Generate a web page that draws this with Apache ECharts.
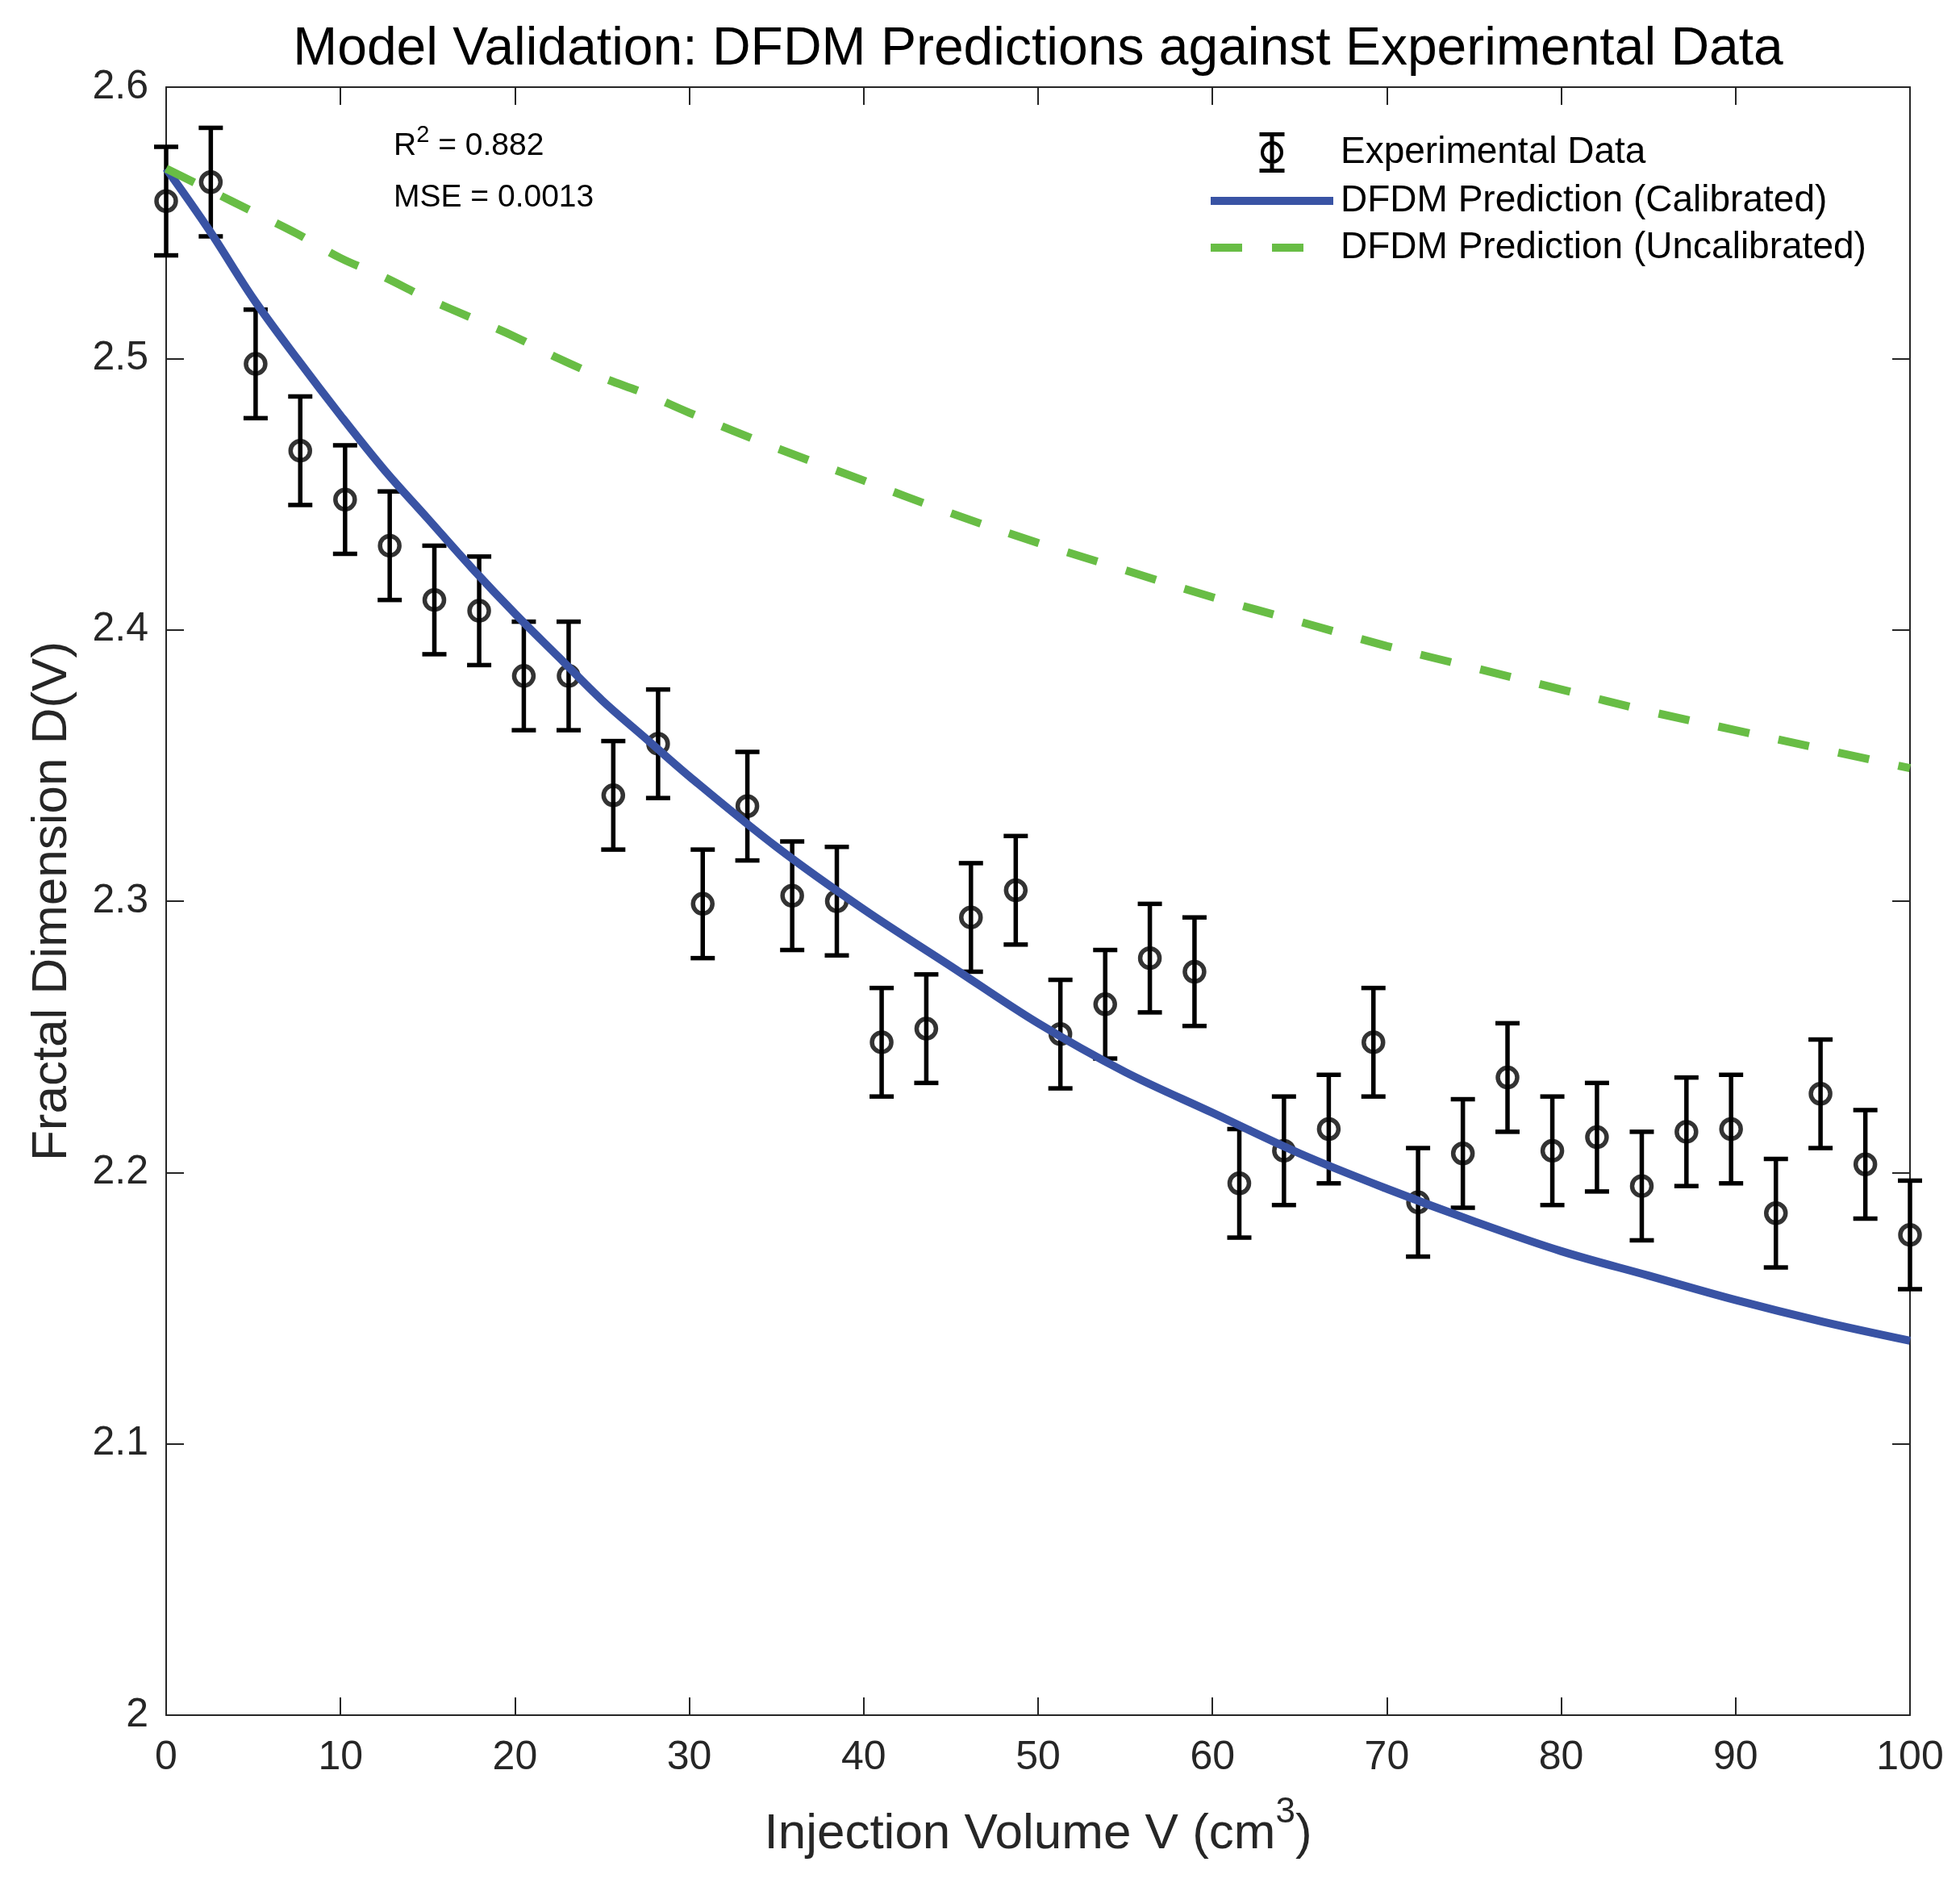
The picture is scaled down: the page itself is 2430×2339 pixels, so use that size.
<!DOCTYPE html>
<html>
<head>
<meta charset="utf-8">
<script src="https://cdn.jsdelivr.net/npm/echarts@6/dist/echarts.min.js"></script>
<style>
  html, body { margin: 0; padding: 0; background: #fff; }
  #chart { width: 2430px; height: 2339px; }
</style>
</head>
<body>
<div id="chart"></div>
<script>
// ---------------- data ----------------
const titleText = 'Model Validation: DFDM Predictions against Experimental Data';
const xAxisTitle = 'Injection Volume V (cm{sup|3})';
const yAxisTitle = 'Fractal Dimension D(V)';
const seriesNames = ['Experimental Data', 'DFDM Prediction (Calibrated)', 'DFDM Prediction (Uncalibrated)'];
const statsLines = ['R{sup|2} = 0.882', 'MSE = 0.0013'];

// experimental points (injection volume, fractal dimension, half error bar)
const volume = [0, 2.56, 5.13, 7.69, 10.26, 12.82, 15.38, 17.95, 20.51, 23.08,
  25.64, 28.21, 30.77, 33.33, 35.9, 38.46, 41.03, 43.59, 46.15, 48.72,
  51.28, 53.85, 56.41, 58.97, 61.54, 64.1, 66.67, 69.23, 71.79, 74.36,
  76.92, 79.49, 82.05, 84.62, 87.18, 89.74, 92.31, 94.87, 97.44, 100];
const measured = [2.558, 2.565, 2.498, 2.466, 2.448, 2.431, 2.411, 2.407, 2.383, 2.383,
  2.339, 2.358, 2.299, 2.335, 2.302, 2.300, 2.248, 2.253, 2.294, 2.304,
  2.251, 2.262, 2.279, 2.274, 2.196, 2.208, 2.216, 2.248, 2.189, 2.207,
  2.235, 2.208, 2.213, 2.195, 2.215, 2.216, 2.185, 2.229, 2.203, 2.177];
const errorBar = [0.02, 0.02, 0.02, 0.02, 0.02, 0.02, 0.02, 0.02, 0.02, 0.02,
  0.02, 0.02, 0.02, 0.02, 0.02, 0.02, 0.02, 0.02, 0.02, 0.02,
  0.02, 0.02, 0.02, 0.02, 0.02, 0.02, 0.02, 0.02, 0.02, 0.02,
  0.02, 0.02, 0.02, 0.02, 0.02, 0.02, 0.02, 0.02, 0.02, 0.02];

// model curves
const curveVolume = [0, 2.5, 5, 7.5, 10, 12.5, 15, 17.5, 20, 22.5, 25, 27.5, 30, 35, 40, 45, 50,
  55, 60, 65, 70, 75, 80, 85, 90, 95, 100];
const calibrated = [2.570, 2.547, 2.522, 2.500, 2.479, 2.459, 2.441, 2.423, 2.406, 2.390, 2.374, 2.360,
  2.346, 2.320, 2.297, 2.276, 2.255, 2.237, 2.222, 2.207, 2.194, 2.182,
  2.171, 2.162, 2.153, 2.145, 2.138];
const uncalibrated = [2.570, 2.562, 2.554, 2.546, 2.537, 2.530, 2.522, 2.515, 2.508, 2.500, 2.493, 2.487,
  2.480, 2.467, 2.455, 2.443, 2.432, 2.422, 2.412, 2.403, 2.394, 2.386,
  2.378, 2.370, 2.363, 2.356, 2.349];

// axis ranges
const xMin = 0, xMax = 100, xStep = 10;
const yMin = 2, yMax = 2.6, yStep = 0.1;

// ---------------- styling ----------------
const FONT = "'Liberation Sans', Arial, Helvetica, sans-serif";
const AXIS_COLOR = '#262626';
const BLUE = '#3953A4';
const GREEN = '#68BD45';

const chart = echarts.init(document.getElementById('chart'), null, { renderer: 'canvas' });

const scatterData = volume.map((v, i) => [v, measured[i]]);
const errorData = volume.map((v, i) => [v, measured[i] - errorBar[i], measured[i] + errorBar[i]]);
const calibratedData = curveVolume.map((v, i) => [v, calibrated[i]]);
const uncalibratedData = curveVolume.map((v, i) => [v, uncalibrated[i]]);

function renderErrorBar(params, api) {
  const x = api.value(0);
  const lo = api.coord([x, api.value(1)]);
  const hi = api.coord([x, api.value(2)]);
  const hw = 15;
  const style = { stroke: '#000', lineWidth: 5.5, fill: null };
  return {
    type: 'group',
    children: [
      { type: 'line', shape: { x1: lo[0], y1: lo[1], x2: hi[0], y2: hi[1] }, style: style },
      { type: 'line', shape: { x1: lo[0] - hw, y1: lo[1], x2: lo[0] + hw, y2: lo[1] }, style: style },
      { type: 'line', shape: { x1: hi[0] - hw, y1: hi[1], x2: hi[0] + hw, y2: hi[1] }, style: style }
    ]
  };
}

const tickStyle = { inside: true, length: 22, lineStyle: { color: AXIS_COLOR, width: 2 } };
const lineStyleAxis = { show: true, onZero: false, lineStyle: { color: AXIS_COLOR, width: 2 } };

const errIcon = 'path://M0,0H31V5H0Z M0,45H31V50H0Z M13,5H18V45H13Z ' +
  'M1.5,25A14,14 0 1,1 29.5,25A14,14 0 1,1 1.5,25Z ' +
  'M5.5,25A10,10 0 1,0 25.5,25A10,10 0 1,0 5.5,25Z';
const solidIcon = 'path://M0,0H152V10H0Z';
const dashIcon = 'path://M0,0H39V10H0Z M76,0H115V10H76Z M152,0L152,10';

const option = {
  animation: false,
  backgroundColor: '#ffffff',
  textStyle: { fontFamily: FONT },
  title: {
    text: titleText,
    left: 1287,
    top: 29,
    textAlign: 'center',
    padding: 0,
    textStyle: { fontFamily: FONT, fontSize: 66, fontWeight: 'normal', color: '#000', lineHeight: 66 }
  },
  grid: { left: 206, right: 62, top: 108, bottom: 213, containLabel: false },
  legend: {
    left: 1501,
    top: 164,
    orient: 'vertical',
    padding: 0,
    itemWidth: 152,
    itemHeight: 50,
    itemGap: 12,
    symbolKeepAspect: true,
    selectedMode: false,
    textStyle: { fontFamily: FONT, fontSize: 46, color: '#000', lineHeight: 46, padding: [0, 0, 0, 4] },
    data: [
      { name: seriesNames[0], icon: errIcon, itemStyle: { color: '#000', borderWidth: 0 } },
      { name: seriesNames[1], icon: solidIcon, itemStyle: { color: BLUE, borderWidth: 0 } },
      { name: seriesNames[2], icon: dashIcon, itemStyle: { color: GREEN, borderWidth: 0 } }
    ]
  },
  xAxis: [
    {
      type: 'value', position: 'bottom', min: xMin, max: xMax, interval: xStep,
      name: xAxisTitle, nameLocation: 'middle', nameGap: 98,
      nameTextStyle: {
        fontFamily: FONT, fontSize: 62, color: AXIS_COLOR, lineHeight: 100,
        rich: { sup: { fontFamily: FONT, fontSize: 44, color: AXIS_COLOR, height: 45, verticalAlign: 'top' } }
      },
      axisLine: lineStyleAxis, axisTick: tickStyle,
      axisLabel: { margin: 28, fontFamily: FONT, fontSize: 50, color: AXIS_COLOR },
      splitLine: { show: false }
    },
    {
      type: 'value', position: 'top', min: xMin, max: xMax, interval: xStep,
      axisLine: lineStyleAxis, axisTick: tickStyle, axisLabel: { show: false }, splitLine: { show: false }
    }
  ],
  yAxis: [
    {
      type: 'value', position: 'left', min: yMin, max: yMax, interval: yStep,
      name: yAxisTitle, nameLocation: 'middle', nameGap: 110, nameRotate: 90,
      nameTextStyle: { fontFamily: FONT, fontSize: 62, color: AXIS_COLOR, lineHeight: 62 },
      axisLine: lineStyleAxis, axisTick: tickStyle,
      axisLabel: { margin: 22, fontFamily: FONT, fontSize: 50, color: AXIS_COLOR },
      splitLine: { show: false }
    },
    {
      type: 'value', position: 'right', min: yMin, max: yMax, interval: yStep,
      axisLine: lineStyleAxis, axisTick: tickStyle, axisLabel: { show: false }, splitLine: { show: false }
    }
  ],
  series: [
    {
      name: seriesNames[0],
      type: 'custom',
      xAxisIndex: 0, yAxisIndex: 0,
      renderItem: renderErrorBar,
      encode: { x: 0, y: [1, 2] },
      itemStyle: { color: '#000' },
      data: errorData,
      silent: true,
      z: 2
    },
    {
      name: seriesNames[0],
      type: 'scatter',
      xAxisIndex: 0, yAxisIndex: 0,
      symbol: 'circle',
      symbolSize: 24,
      itemStyle: { color: 'rgba(0,0,0,0)', borderColor: '#000', borderWidth: 5.5 },
      data: scatterData,
      silent: true,
      z: 3
    },
    {
      name: seriesNames[1],
      type: 'line',
      xAxisIndex: 0, yAxisIndex: 0,
      symbol: 'none',
      smooth: 0.35,
      lineStyle: { color: BLUE, width: 10, cap: 'butt' },
      itemStyle: { color: BLUE },
      data: calibratedData,
      silent: true,
      z: 4
    },
    {
      name: seriesNames[2],
      type: 'line',
      xAxisIndex: 0, yAxisIndex: 0,
      symbol: 'none',
      smooth: 0.35,
      lineStyle: { color: GREEN, width: 10, type: [39, 37], cap: 'butt' },
      itemStyle: { color: GREEN },
      data: uncalibratedData,
      silent: true,
      z: 5
    }
  ],
  graphic: [
    {
      type: 'text', x: 488, y: 181.5, silent: true,
      style: {
        text: statsLines[0], fontFamily: FONT, fontSize: 39, fill: '#000',
        lineHeight: 58, verticalAlign: 'middle',
        rich: { sup: { fontFamily: FONT, fontSize: 29, fill: '#000', height: 30, verticalAlign: 'top' } }
      }
    },
    {
      type: 'text', x: 488, y: 245, silent: true,
      style: { text: statsLines[1], fontFamily: FONT, fontSize: 39, fill: '#000', verticalAlign: 'middle' }
    }
  ]
};

chart.setOption(option);
</script>
</body>
</html>
